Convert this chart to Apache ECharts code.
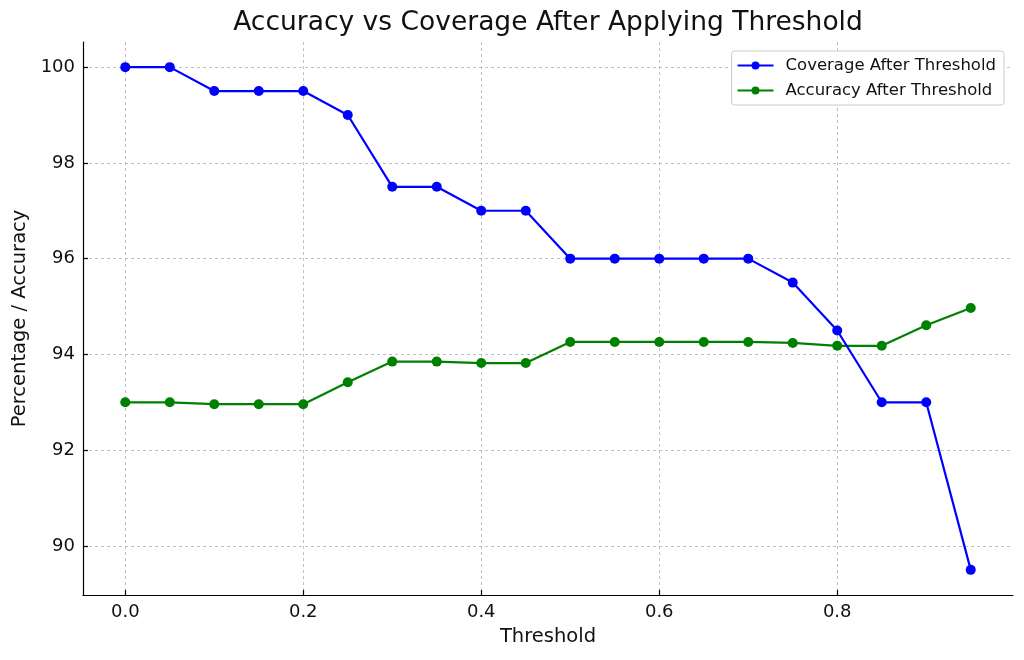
<!DOCTYPE html>
<html>
<head>
<meta charset="utf-8">
<title>Accuracy vs Coverage</title>
<script src="https://cdn.jsdelivr.net/npm/echarts@6/dist/echarts.min.js"></script>
<style>
  html, body { margin: 0; padding: 0; background: #fff; }
  #chartDiv { width: 1024px; height: 660px; }
</style>
</head>
<body>
<div id="chartDiv"></div>
<script>
var thresholds = [0.0, 0.05, 0.1, 0.15, 0.2, 0.25, 0.3, 0.35, 0.4, 0.45,
                  0.5, 0.55, 0.6, 0.65, 0.7, 0.75, 0.8, 0.85, 0.9, 0.95];
var coverage = [100, 100, 99.5, 99.5, 99.5, 99, 97.5, 97.5, 97, 97,
                96, 96, 96, 96, 96, 95.5, 94.5, 93, 93, 89.5];
var accuracy = [93.0, 93.0, 92.96, 92.96, 92.96, 93.42, 93.85, 93.85, 93.82, 93.82,
                94.26, 94.26, 94.26, 94.26, 94.26, 94.24, 94.18, 94.18, 94.61, 94.97];
var xTicks = [0, 0.2, 0.4, 0.6, 0.8];
var yTicks = [90, 92, 94, 96, 98, 100];

var fontName = 'DejaVu Sans';

function pairs(xs, ys) {
    var out = [];
    for (var i = 0; i < xs.length; i++) out.push([xs[i], ys[i]]);
    return out;
}

var chart = echarts.init(document.getElementById('chartDiv'));

// 轴的样式，类似 matplotlib
var gridLine = { show: true, lineStyle: { color: '#b0b0b0', type: [3, 3], width: 0.8 } };
var axisLine = { show: true, onZero: false, lineStyle: { color: '#000', width: 1.2 } };

var option = {
    animation: false,
    textStyle: { fontFamily: fontName },
    title: {
        text: 'Accuracy vs Coverage After Applying Threshold',
        left: 543,
        top: 5,
        textAlign: 'center',
        textStyle: { fontFamily: fontName, fontSize: 26.5, fontWeight: 'normal', color: '#111' }
    },
    grid: { left: 83, right: 11, top: 42, bottom: 65, containLabel: false },
    legend: {
        orient: 'vertical',
        right: 20,
        top: 51,
        padding: [6, 8, 6, 5],
        itemGap: 8,
        itemWidth: 36,
        itemHeight: 10,
        backgroundColor: '#fff',
        borderColor: '#cccccc',
        borderWidth: 1,
        borderRadius: 3,
        textStyle: { fontFamily: fontName, fontSize: 16.5, color: '#111', padding: [0, 0, 0, 7] },
        data: ['Coverage After Threshold', 'Accuracy After Threshold']
    },
    xAxis: {
        type: 'value',
        min: -0.0475,
        max: 0.9975,
        name: 'Threshold',
        nameLocation: 'middle',
        nameGap: 32,
        nameTextStyle: { fontFamily: fontName, fontSize: 19.5, color: '#111' },
        axisLine: axisLine,
        axisTick: { show: true, customValues: xTicks, length: 5, inside: true, lineStyle: { color: '#000', width: 1.2 } },
        axisLabel: {
            customValues: xTicks,
            fontSize: 18, color: '#111', margin: 8,
            formatter: function (v) { return v.toFixed(1); }
        },
        splitLine: gridLine
    },
    yAxis: {
        type: 'value',
        min: 88.975,
        max: 100.525,
        name: 'Percentage / Accuracy',
        nameLocation: 'middle',
        nameGap: 52,
        nameTextStyle: { fontFamily: fontName, fontSize: 19.5, color: '#111' },
        axisLine: axisLine,
        axisTick: { show: true, customValues: yTicks, length: 5, inside: true, lineStyle: { color: '#000', width: 1.2 } },
        axisLabel: { customValues: yTicks, fontSize: 18, color: '#111', margin: 8 },
        splitLine: gridLine
    },
    series: [
        {
            name: 'Coverage After Threshold',
            type: 'line',
            data: pairs(thresholds, coverage),
            symbol: 'circle',
            symbolSize: 10,
            itemStyle: { color: '#0000ff' },
            lineStyle: { color: '#0000ff', width: 2.2 },
            z: 3
        },
        {
            name: 'Accuracy After Threshold',
            type: 'line',
            data: pairs(thresholds, accuracy),
            symbol: 'circle',
            symbolSize: 10,
            itemStyle: { color: '#008000' },
            lineStyle: { color: '#008000', width: 2.2 },
            z: 2
        }
    ]
};

chart.setOption(option);
</script>
</body>
</html>
